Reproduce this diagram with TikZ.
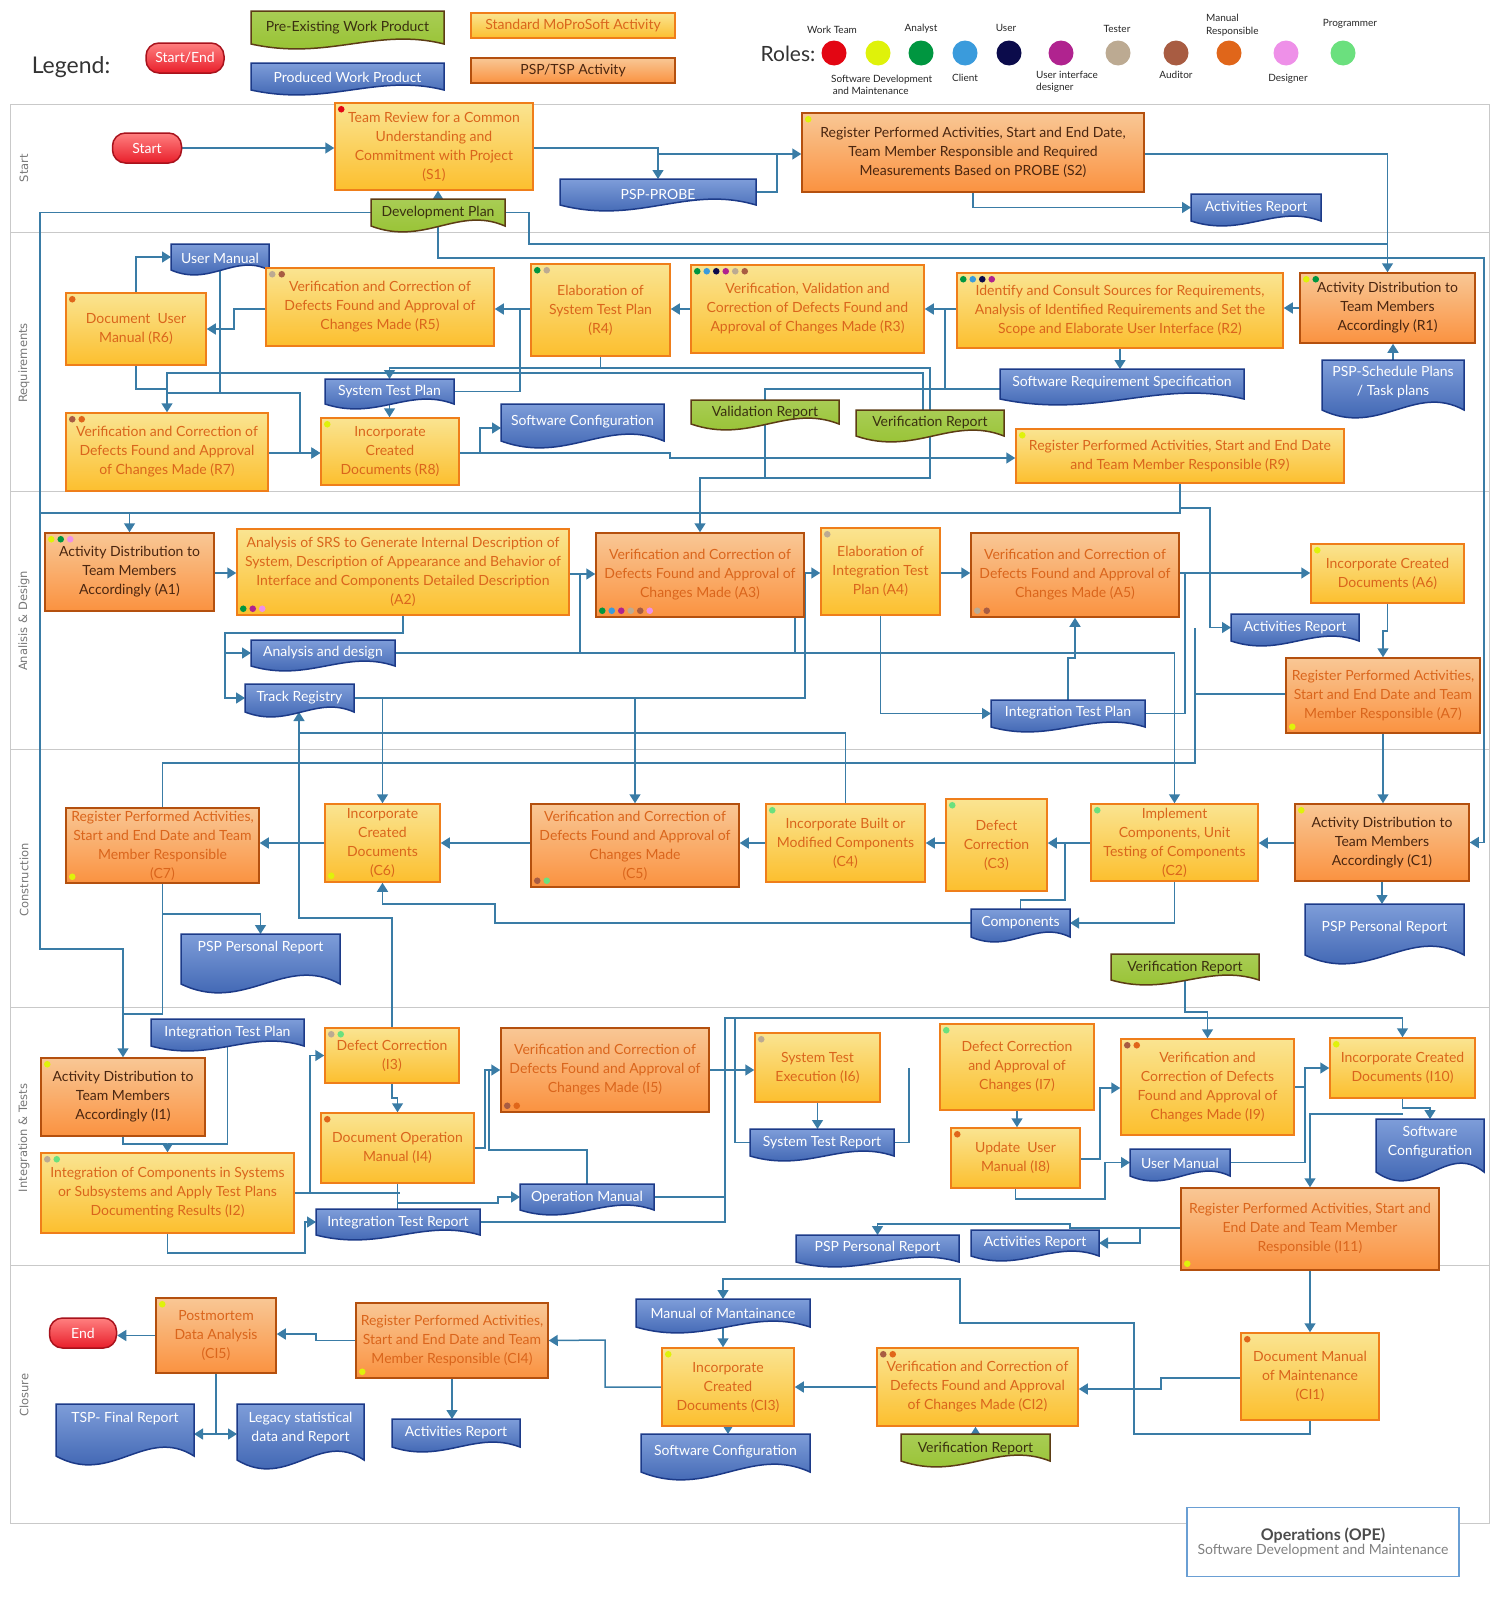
\documentclass[tikz,border=0pt]{standalone}
\usepackage{fontspec}
\setmainfont{Lato}
\newfontfamily\lanefont{DejaVu Sans}
\usetikzlibrary{arrows.meta,calc}

% palette
\definecolor{lnc}{HTML}{3A7CA6}
\definecolor{stdT}{HTML}{FAE491}
\definecolor{stdB}{HTML}{FCBF2E}
\definecolor{stdD}{HTML}{EF7E1A}
\definecolor{txtO}{HTML}{DA651C}
\definecolor{pspT}{HTML}{F9C795}
\definecolor{pspB}{HTML}{FA9240}
\definecolor{pspD}{HTML}{B4500E}
\definecolor{txtD}{HTML}{4A2610}
\definecolor{docT}{HTML}{7E9DD9}
\definecolor{docB}{HTML}{2E56A8}
\definecolor{docD}{HTML}{1C3A88}
\definecolor{grnF}{HTML}{93C02A}
\definecolor{grnD}{HTML}{5C3C14}
\definecolor{grnTx}{HTML}{3A3010}
\definecolor{seT}{HTML}{FF8080}
\definecolor{seB}{HTML}{E81E2A}
\definecolor{seD}{HTML}{A8121C}
\definecolor{laneC}{HTML}{C9C9C9}
\definecolor{laneTx}{HTML}{777777}
\definecolor{opsC}{HTML}{6A9FD4}
% role colours
\definecolor{rWT}{HTML}{E30613}
\definecolor{rSD}{HTML}{DFF20A}
\definecolor{rAN}{HTML}{009640}
\definecolor{rCL}{HTML}{3A9BDC}
\definecolor{rUS}{HTML}{0B0B4B}
\definecolor{rUI}{HTML}{B0238F}
\definecolor{rTE}{HTML}{BCAA92}
\definecolor{rAU}{HTML}{A85C42}
\definecolor{rMR}{HTML}{E0661A}
\definecolor{rDE}{HTML}{EE90E8}
\definecolor{rPR}{HTML}{6BE07E}

\pgfdeclarelayer{lanes}
\pgfdeclarelayer{links}
\pgfsetlayers{lanes,links,main}

\tikzset{
  ln/.style={draw=lnc, line width=1.5pt},
  ar/.style={ln, -{Triangle[width=11pt,length=9pt]}},
  boxbase/.style={rectangle, align=center, inner sep=1pt, line width=1.5pt,
    font=\fontsize{14}{19}\selectfont},
  std/.style={boxbase, draw=stdD, top color=stdT, bottom color=stdB, text=txtO},
  psp/.style={boxbase, draw=pspD, top color=pspT, bottom color=pspB, text=txtO},
  pspd/.style={psp, text=txtD},
  bdoc/.style={draw=docD, line width=1.5pt, top color=docT, bottom color=docB},
  bdoctext/.style={text=white, align=center, inner sep=0pt, font=\fontsize{14}{19}\selectfont},
  gdoc/.style={draw=grnD, line width=1.5pt, top color=grnF!80!white, bottom color=grnF},
  gdoctext/.style={text=grnTx, align=center, inner sep=0pt, font=\fontsize{14}{19}\selectfont},
  endpt/.style={rectangle, rounded corners=13pt, draw=seD, line width=1.5pt, top color=seT,
    bottom color=seB, text=white, font=\fontsize{14}{16}\selectfont, minimum height=30, inner sep=2pt},
  lanelbl/.style={rotate=90, text=laneTx, font=\lanefont\fontsize{11.5}{14}\selectfont},
  rolelbl/.style={font=\fontsize{10}{12.5}\selectfont, text=black!85, align=center, inner sep=0pt},
}

% activity box from its corners
\newcommand\abox[7]{\node[#1, minimum width={#5-#3}, minimum height={#6-#4}] (#2) at ({(#3+#5)/2},{(#4+#6)/2}) {#7};}
% document shape with a wavy lower edge: style, name, x1, y1, x2, y2, wave, text y, text
\newcommand\wdoc[9]{%
  \path[#1] (#3,#4) -- (#5,#4) -- (#5,#6) .. controls ({#5-0.35*(#5-#3)},{#6-3.4*#7}) and ({#3+0.4*(#5-#3)},{#6+3.4*#7}) .. (#3,#6) -- cycle;
  \node[inner sep=0pt, outer sep=0pt, minimum width={#5-#3}, minimum height={#6-#4}] (#2) at ({(#3+#5)/2},{(#4+#6)/2}) {};
  \node[#1text] (#2-t) at ({(#3+#5)/2},#8) {#9};}
% role dots in a box corner
\newcommand\dotsTop[2]{\foreach \rc [count=\ii from 0] in {#2}{\fill[fill=\rc] ($(#1.north west)+(7+\ii*9.5,7)$) circle (3.3);}}
\newcommand\dotsBot[2]{\foreach \rc [count=\ii from 0] in {#2}{\fill[fill=\rc] ($(#1.south west)+(7+\ii*9.5,-7)$) circle (3.3);}}

\begin{document}
\begin{tikzpicture}[x=1pt,y=-1pt]
\useasboundingbox (0,0) rectangle (1500,1598);

% ---------- swim lanes ----------
\begin{pgfonlayer}{lanes}
\draw[laneC, line width=1pt] (10,104) rectangle (1489,1523);
\foreach \yy in {232,491,749,1007,1265} \draw[laneC, line width=1pt] (10,\yy) -- (1489,\yy);
\node[lanelbl] (lnS) at (24,168) {Start};
\node[lanelbl] (lnR) at (24,363) {Requirements};
\node[lanelbl] (lnA) at (24,621) {Analisis \& Design};
\node[lanelbl] (lnC) at (24,880) {Construction};
\node[lanelbl] (lnI) at (24,1138) {Integration \& Tests};
\node[lanelbl] (lnCl) at (24,1395) {Closure};
\end{pgfonlayer}

% ---------- legend ----------
\node[font=\fontsize{23}{26}\selectfont, text=black!80] (lgTitle) at (71,67) {Legend:};
\node[endpt, minimum width=78] (lgSE) at (185,58) {Start/End};
\wdoc{gdoc}{lgPre}{251}{11}{444}{44}{5}{28}{Pre-Existing Work Product}
\wdoc{bdoc}{lgProd}{251}{63}{444}{90}{5}{77}{Produced Work Product}
\abox{std}{lgStd}{471}{13}{675}{38}{Standard MoProSoft Activity}
\abox{pspd}{lgPsp}{471}{58}{675}{83}{PSP/TSP Activity}

\node[font=\fontsize{21}{24}\selectfont, text=black!80] (rolesT) at (788,54) {Roles:};
\foreach \rc/\xx in {rWT/834,rSD/878,rAN/921,rCL/965,rUS/1009,rUI/1061,rTE/1118,rAU/1176,rMR/1229,rDE/1286,rPR/1343}
  \fill[fill=\rc] (\xx,53) circle (12.5);
\node[rolelbl] (lbWT) at (832,30) {Work Team};
\node[rolelbl, align=left, anchor=west] (lbSD) at (831,85) {Software Development\\\,and Maintenance};
\node[rolelbl] (lbAN) at (921,29) {Analyst};
\node[rolelbl] (lbCL) at (965,78) {Client};
\node[rolelbl] (lbUS) at (1006,28) {User};
\node[rolelbl, align=left, anchor=west] (lbUI) at (1036,82) {User interface\\designer};
\node[rolelbl] (lbTE) at (1117,29) {Tester};
\node[rolelbl] (lbAU) at (1176,75) {Auditor};
\node[rolelbl, align=left, anchor=west] (lbMR) at (1206,25) {Manual\\Responsible};
\node[rolelbl] (lbDE) at (1288,79) {Designer};
\node[rolelbl] (lbPR) at (1350,24) {Programmer};

% ---------- start lane ----------
\node[endpt, minimum width=69] (startN) at (147,148) {Start};
\abox{std}{s1}{335}{103}{533}{190}{Team Review for a Common\\Understanding and\\Commitment with Project\\(S1)}
\abox{pspd}{s2}{802}{113}{1144}{192}{Register Performed Activities, Start and End Date,\\Team Member Responsible and Required\\Measurements Based on PROBE (S2)}
\wdoc{bdoc}{probe}{560}{179}{756}{205}{6}{194}{PSP-PROBE}
\wdoc{bdoc}{arS}{1191}{194}{1321}{221}{5}{208}{Activities Report}
\wdoc{gdoc}{devplan}{371}{199}{505}{226}{6}{213}{Development Plan}
\dotsTop{s1}{rWT}
\dotsTop{s2}{rSD}

% ---------- requirements lane ----------
\wdoc{bdoc}{umR}{171}{244}{269}{270}{5}{258}{User Manual}
\abox{std}{r6}{66}{293}{206}{365}{Document~ User\\Manual (R6)}
\abox{std}{r5}{266}{268}{494}{346}{Verification and Correction of\\Defects Found and Approval of\\Changes Made (R5)}
\abox{std}{r4}{531}{264}{670}{356}{Elaboration of\\System Test Plan\\(R4)}
\abox{std}{r3}{691}{265}{924}{353}{Verification, Validation and\\Correction of Defects Found and\\Approval of Changes Made (R3)}
\abox{std}{r2}{957}{273}{1283}{348}{Identify and Consult Sources for Requirements,\\Analysis of Identified Requirements and Set the\\Scope and Elaborate User Interface (R2)}
\abox{pspd}{r1}{1300}{273}{1475}{343}{Activity Distribution to\\Team Members\\Accordingly (R1)}
\wdoc{bdoc}{pspsp}{1322}{360}{1464}{410}{8}{382}{PSP-Schedule Plans\\/ Task plans}
\wdoc{bdoc}{srs}{1000}{369}{1244}{399}{6}{383}{Software Requirement Specification}
\wdoc{bdoc}{stp}{325}{379}{454}{404}{5}{392}{System Test Plan}
\abox{std}{r7}{66}{413}{268}{491}{Verification and Correction of\\Defects Found and Approval\\of Changes Made (R7)}
\abox{std}{r8}{321}{418}{459}{485}{Incorporate\\Created\\Documents (R8)}
\wdoc{bdoc}{scR}{501}{404}{664}{441}{7}{422}{Software Configuration}
\wdoc{gdoc}{valrep}{691}{400}{839}{424}{6}{413}{Validation Report}
\wdoc{gdoc}{verR}{856}{410}{1004}{436}{6}{423}{Verification Report}
\abox{std}{r9}{1016}{429}{1344}{483}{Register Performed Activities, Start and End Date\\and Team Member Responsible (R9)}
\dotsTop{r6}{rMR}
\dotsTop{r5}{rTE,rAU}
\dotsTop{r4}{rAN,rTE}
\dotsTop{r3}{rAN,rCL,rUS,rUI,rTE,rAU}
\dotsTop{r2}{rAN,rCL,rUS,rUI}
\dotsTop{r1}{rSD,rAN}
\dotsTop{r7}{rAU,rMR}
\dotsTop{r8}{rSD}
\dotsTop{r9}{rSD}

% ---------- analysis & design lane ----------
\abox{pspd}{a1}{45}{533}{214}{611}{Activity Distribution to\\Team Members\\Accordingly (A1)}
\abox{std}{a2}{237}{529}{569}{615}{Analysis of SRS to Generate Internal Description of\\System, Description of Appearance and Behavior of\\Interface and Components Detailed Description\\(A2)}
\abox{psp}{a3}{596}{533}{804}{617}{Verification and Correction of\\Defects Found and Approval of\\Changes Made (A3)}
\abox{std}{a4}{821}{528}{940}{615}{Elaboration of\\Integration Test\\Plan (A4)}
\abox{psp}{a5}{971}{533}{1179}{617}{Verification and Correction of\\Defects Found and Approval of\\Changes Made (A5)}
\abox{std}{a6}{1311}{544}{1464}{603}{Incorporate Created\\Documents (A6)}
\wdoc{bdoc}{arA}{1231}{614}{1359}{641}{5}{628}{Activities Report}
\abox{psp}{a7}{1286}{658}{1480}{733}{Register Performed Activities,\\Start and End Date and Team\\Member Responsible (A7)}
\wdoc{bdoc}{andoc}{251}{640}{395}{666}{5}{653}{Analysis and design}
\wdoc{bdoc}{tr}{245}{684}{354}{712}{5}{698}{Track Registry}
\wdoc{bdoc}{itpA}{991}{700}{1145}{727}{5}{713}{Integration Test Plan}
\dotsTop{a1}{rSD,rAN,rDE}
\dotsBot{a2}{rAN,rUI,rDE}
\dotsBot{a3}{rAN,rCL,rUI,rTE,rAU,rDE}
\dotsTop{a4}{rTE}
\dotsBot{a5}{rTE,rAU}
\dotsTop{a6}{rSD}
\dotsBot{a7}{rSD}

% ---------- construction lane ----------
\abox{psp}{c7}{66}{808}{259}{883}{Register Performed Activities,\\Start and End Date and Team\\Member Responsible\\(C7)}
\abox{std}{c6}{325}{804}{440}{882}{Incorporate\\Created\\Documents\\(C6)}
\abox{psp}{c5}{531}{804}{739}{887}{Verification and Correction of\\Defects Found and Approval of\\Changes Made\\(C5)}
\abox{std}{c4}{766}{804}{925}{882}{Incorporate Built or\\Modified Components\\(C4)}
\abox{std}{c3}{946}{799}{1047}{891}{Defect\\Correction\\(C3)}
\abox{std}{c2}{1091}{804}{1258}{881}{Implement\\Components, Unit\\Testing of Components\\(C2)}
\abox{pspd}{c1}{1295}{804}{1469}{881}{Activity Distribution to\\Team Members\\Accordingly (C1)}
\wdoc{bdoc}{pprC}{181}{934}{340}{984}{9}{948}{PSP Personal Report}
\wdoc{bdoc}{pprCb}{1305}{904}{1464}{955}{9}{928}{PSP Personal Report}
\wdoc{bdoc}{comp}{971}{909}{1070}{937}{5}{923}{Components}
\wdoc{gdoc}{verC}{1111}{954}{1259}{980}{5}{968}{Verification Report}
\dotsBot{c7}{rSD}
\dotsBot{c6}{rSD}
\dotsBot{c5}{rAU,rPR}
\dotsTop{c4}{rPR}
\dotsTop{c3}{rPR}
\dotsTop{c2}{rPR}
\dotsTop{c1}{rSD}

% ---------- integration & tests lane ----------
\wdoc{bdoc}{itpI}{151}{1019}{304}{1046}{5}{1033}{Integration Test Plan}
\abox{pspd}{i1}{41}{1058}{205}{1136}{Activity Distribution to\\Team Members\\Accordingly (I1)}
\abox{std}{i2}{41}{1153}{294}{1233}{Integration of Components in Systems\\or Subsystems and Apply Test Plans\\Documenting Results (I2)}
\abox{std}{i3}{325}{1028}{459}{1083}{Defect Correction\\(I3)}
\abox{std}{i4}{321}{1113}{474}{1183}{Document Operation\\Manual (I4)}
\abox{psp}{i5}{501}{1028}{709}{1112}{Verification and Correction of\\Defects Found and Approval of\\Changes Made (I5)}
\wdoc{bdoc}{om}{520}{1184}{654}{1210}{5}{1198}{Operation Manual}
\wdoc{bdoc}{itr}{316}{1209}{480}{1235}{5}{1223}{Integration Test Report}
\abox{std}{i6}{755}{1033}{880}{1102}{System Test\\Execution (I6)}
\wdoc{bdoc}{str}{750}{1129}{894}{1156}{5}{1143}{System Test Report}
\abox{std}{i7}{940}{1024}{1094}{1110}{Defect Correction\\and Approval of\\Changes (I7)}
\abox{std}{i8}{951}{1128}{1080}{1188}{Update~ User\\Manual (I8)}
\wdoc{bdoc}{umI}{1130}{1149}{1230}{1176}{5}{1163}{User Manual}
\abox{std}{i9}{1121}{1039}{1294}{1135}{Verification and\\Correction of Defects\\Found and Approval of\\Changes Made (I9)}
\abox{std}{i10}{1330}{1038}{1475}{1098}{Incorporate Created\\Documents (I10)}
\wdoc{bdoc}{scI}{1376}{1119}{1484}{1172}{9}{1142}{Software\\Configuration}
\abox{psp}{i11}{1181}{1188}{1439}{1270}{Register Performed Activities, Start and\\End Date and Team Member\\Responsible (I11)}
\wdoc{bdoc}{arI}{971}{1230}{1099}{1256}{5}{1243}{Activities Report}
\wdoc{bdoc}{pprI}{796}{1235}{959}{1262}{5}{1248}{PSP Personal Report}
\dotsTop{i1}{rSD}
\dotsTop{i2}{rTE,rPR}
\dotsTop{i3}{rTE,rPR}
\dotsTop{i4}{rMR}
\dotsBot{i5}{rAU,rMR}
\dotsTop{i6}{rTE}
\dotsTop{i7}{rPR}
\dotsTop{i8}{rMR}
\dotsTop{i9}{rAU,rMR}
\dotsTop{i10}{rSD}
\dotsBot{i11}{rSD}

% ---------- closure lane ----------
\node[endpt, minimum width=67] (endN) at (83,1333) {End};
\abox{psp}{ci5}{156}{1298}{276}{1373}{Postmortem\\Data Analysis\\(CI5)}
\wdoc{bdoc}{tsp}{56}{1404}{194}{1456}{9}{1419}{TSP- Final Report}
\wdoc{bdoc}{legacy}{237}{1404}{364}{1460}{9}{1428}{Legacy statistical\\data and Report}
\abox{psp}{ci4}{356}{1303}{548}{1378}{Register Performed Activities,\\Start and End Date and Team\\Member Responsible (CI4)}
\wdoc{bdoc}{arC}{392}{1419}{520}{1447}{5}{1433}{Activities Report}
\wdoc{bdoc}{mom}{636}{1299}{810}{1327}{6}{1313}{Manual of Mantainance}
\abox{std}{ci3}{662}{1348}{794}{1426}{Incorporate\\Created\\Documents (CI3)}
\wdoc{bdoc}{scC}{641}{1434}{810}{1472}{8}{1452}{Software Configuration}
\abox{std}{ci2}{877}{1348}{1078}{1426}{Verification and Correction of\\Defects Found and Approval\\of Changes Made (CI2)}
\wdoc{gdoc}{verCl}{901}{1434}{1050}{1461}{6}{1449}{Verification Report}
\abox{std}{ci1}{1241}{1333}{1379}{1420}{Document Manual\\of Maintenance\\(CI1)}
\dotsTop{ci5}{rSD}
\dotsBot{ci4}{rSD}
\dotsTop{ci3}{rSD}
\dotsTop{ci2}{rAU,rMR}
\dotsTop{ci1}{rMR}

\node[draw=opsC, line width=1.6pt, fill=white, minimum width=272, minimum height=69, align=center, inner sep=2pt] (ops) at (1323,1542)
  {{\fontsize{16}{19}\selectfont\bfseries\color{black!70}Operations (OPE)}\\[0pt]{\fontsize{14}{16}\selectfont\color{black!50}Software Development and Maintenance}};

% ---------- connectors ----------
\begin{pgfonlayer}{links}
% start
\draw[ar] (startN.east) -- (s1.west |- startN.east);
\draw[ar] (s1.east |- 0,148) -| (probe.north);
\draw[ln] (probe.north |- 0,154) -- (777,154);
\draw[ar] (probe.east) -| (777,154) -- (s2.west |- 0,154);
\draw[ar] (devplan.north) -- (devplan.north |- s1.south);
\draw[ar] (s2.east |- 0,154) -| (r1.north);
\draw[ln] (devplan.east) -| (529,244) -- (r1.north |- 0,244);
\draw[ar] (s2.south) |- (arS.west);
\draw[ar] (devplan.west) -| (40,949) -| (i1.north);
\draw[ar] (devplan.south) |- (1484,258) |- (c1.east);
% requirements
\draw[ar] (pspsp.north) -- (pspsp.north |- r1.south);
\draw[ar] (r1.west) -- (r2.east |- r1.west);
\draw[ar] (r2.west |- 0,309) -- (r3.east |- 0,309);
\draw[ar] (r2.south) -- (r2.south |- srs.north);
\draw[ln] (srs.west |- 0,389) -| (valrep.north);
\draw[ln] (srs.west -| 945,0) ++(0,5) -- (945,309);
\draw[ar] (r3.west |- 0,309) -- (r4.east |- 0,309);
\draw[ar] (r4.west |- 0,309) -- (r5.east |- 0,309);
\draw[ln] (stp.east) -| (520,309);
\draw[ar] (r5.west |- 0,309) -| (234,329) -- (r6.east |- 0,329);
\draw[ar] (r6.north) |- (umR.west);
\draw[ar] (r4.south) |- (stp.north |- 0,368) -- (stp.north);
\draw[ln] (stp.north |- 0,368) -| (verR.north);
\draw[ar] (verR.south) |- (700,478) -- (a3.north -| 700,0);
\draw[ln] (valrep.south) -- (valrep.south |- 0,478);
\draw[ar] (verR.north -| 923,0) |- (r7.north |- 0,373) -- (r7.north);
\draw[ln] (r6.south) |- (r7.north |- 0,389);
\draw[ln] (umR.south) -- (umR.south |- 0,393);
\draw[ar] (r7.north |- 0,393) -- (300,393) |- (r8.west |- 0,453);
\draw[ar] (r7.east |- 0,453) -- (r8.west |- 0,453);
\draw[ar] (r8.east |- 0,453) -- (670,453) -- (670,458) -- (r9.west |- 0,458);
\draw[ar] (r8.east -| 480,0) |- (scR.west |- 0,428);
\draw[ar] (stp.south) -- (stp.south |- r8.north);
\draw[ar] (r9.south) |- (a1.north |- 0,513) -- (a1.north);
\draw[ln] (a1.north |- 0,513) -- (40,513);
\draw[ar] (r9.south |- 0,508) -- (1210,508) |- (arA.west);
% analysis & design
\draw[ar] (a1.east |- 0,573) -- (a2.west |- 0,573);
\draw[ar] (a2.east |- 0,574) -- (a3.west |- 0,574);
\draw[ar] (a2.south) |- (225,633) |- (tr.west);
\draw[ar] (andoc.west -| 225,0) -- (andoc.west);
\draw[ar] (andoc.east) -| (c2.north);
\draw[ln] (andoc.east -| 580,0) -- (580,574);
\draw[ln] (a3.south -| 795,0) -- (795,653);
\draw[ar] (a3.east |- 0,573) -- (a4.west |- 0,573);
\draw[ln] (tr.east) -| (805,573);
\draw[ar] (c6.north |- tr.east) -- (c6.north);
\draw[ar] (c5.north |- tr.east) -- (c5.north);
\draw[ar] (a4.east |- 0,573) -- (a5.west |- 0,573);
\draw[ar] (a4.south) |- (itpA.west);
\draw[ar] (itpA.north) -- ++(0,-42) -| (a5.south -| 1075,0);
\draw[ar] (a5.east |- 0,573) -- (a6.west |- 0,573);
\draw[ln] (itpA.east) -| (1185,573);
\draw[ar] (a6.south) |- (a7.north |- 0,631) -- (a7.north);
\draw[ln] (a7.west |- 0,694) -- (1195,694);
\draw[ln] (c7.north) |- (1195,763) -- (1195,628);
\draw[ar] (a7.south) -- (a7.south |- c1.north);
\draw[ar] (c4.north) |- (299,733) -- (tr.south -| 299,0);
\draw[ln] (i3.north) |- (299,918) -- (299,733);
% construction
\draw[ar] (c1.west |- 0,843) -- (c2.east |- 0,843);
\draw[ar] (c2.west |- 0,843) -- (c3.east |- 0,843);
\draw[ar] (c3.west |- 0,843) -- (c4.east |- 0,843);
\draw[ar] (c4.west |- 0,843) -- (c5.east |- 0,843);
\draw[ar] (c5.west |- 0,843) -- (c6.east |- 0,843);
\draw[ar] (c6.west |- 0,843) -- (c7.east |- 0,843);
\draw[ar] (c1.south) -- (c1.south |- pprCb.north);
\draw[ar] (c2.south) |- (comp.east);
\draw[ln] (comp.north) |- (1065,900) -- (1065,843);
\draw[ar] (comp.west) -| (495,904) -| (c6.south);
\draw[ar] (c7.south) |- (pprC.north |- 0,914) -- (pprC.north);
\draw[ln] (c7.south) |- (i1.north |- 0,1014);
\draw[ar] (verC.south) |- (i9.north |- 0,1012) -- (i9.north);
% integration & tests
\draw[ar] (i1.south) |- (i2.north |- 0,1144) -- (i2.north);
\draw[ln] (itpI.south) |- (i2.north |- 0,1144);
\draw[ar] (i2.east) -- (310,1193) |- (i3.west);
\draw[ln] (i2.east -| 310,0) -- (400,1193);
\draw[ar] (i3.south) |- (i4.north |- 0,1098) -- (i4.north);
\draw[ln] (i4.south) -- (i4.south |- itr.north);
\draw[ar] (i4.south |- 0,1203) -- (498,1203) |- (om.west);
\draw[ar] (i2.south) |- (305,1253) |- (itr.west);
\draw[ar] (i4.east) -| (485,1070) -- (i5.west);
\draw[ln] (om.north) |- (489,1150) -- (489,1070);
\draw[ar] (i5.east) -- (i6.west |- i5.east);
\draw[ar] (itr.east) -| (725,1018) -| (i10.north);
\draw[ln] (om.east) -- (om.east -| 725,0);
\draw[ln] (str.west) -| (735,1018);
\draw[ar] (i6.south) -- (i6.south |- str.north);
\draw[ln] (str.east) -| (909,1068);
\draw[ar] (i7.south) -- (i7.south |- i8.north);
\draw[ar] (i8.east |- 0,1159) -| (1100,1088) -- (i9.west |- 0,1088);
\draw[ar] (i8.south) |- (1105,1199) |- (umI.west);
\draw[ar] (i9.east) -| (1305,1068) -- (i10.west |- 0,1068);
\draw[ln] (umI.east) -| (1305,1088);
\draw[ar] (i10.south) |- (scI.north |- 0,1108) -- (scI.north);
\draw[ar] (i10.south |- 0,1114) -| (i11.north);
\draw[ar] (i11.west |- 0,1228) -- (1140,1228) |- (arI.east);
\draw[ar] (i11.west -| 1140,0) ++(0,-1) -- (1070,1228) -- (1070,1224) -| (pprI.north);
\draw[ar] (i11.south) -- (i11.south |- ci1.north);
% closure
\draw[ar] (ci1.west |- 0,1378) -| (1161,1389) -- (ci2.east |- 0,1389);
\draw[ar] (ci1.south) |- (1134,1434) |- (960,1323) |- (mom.north |- 0,1279) -- (mom.north);
\draw[ar] (ci2.west) -- (ci3.east |- ci2.west);
\draw[ar] (verCl.north) -- (verCl.north |- ci2.south);
\draw[ar] (mom.south) -- (mom.south |- ci3.north);
\draw[ar] (ci3.south) -- (ci3.south |- scC.north);
\draw[ar] (ci3.west) -| (605,1340) -- (ci4.east);
\draw[ar] (ci4.south) -- (ci4.south |- arC.north);
\draw[ar] (ci4.west) -| (316,1334) -- (ci5.east |- 0,1334);
\draw[ar] (ci5.west) -- (endN.east |- ci5.west);
\draw[ln] (ci5.south) -- (ci5.south |- 0,1434);
\draw[ar] (ci5.south |- 0,1434) -- (tsp.east |- 0,1434);
\draw[ar] (ci5.south |- 0,1434) -- (legacy.west |- 0,1434);
\end{pgfonlayer}
\end{tikzpicture}
\end{document}
